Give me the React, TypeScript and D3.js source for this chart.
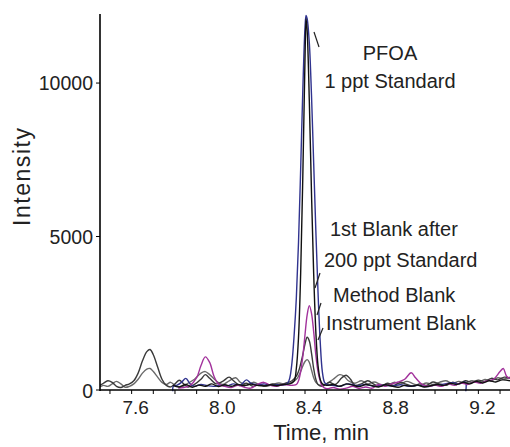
import { useEffect, useRef } from "react"
import * as d3 from "d3"

// time (min) / intensity pairs
const blankAfter200: [number, number][] = [
  [7.79, -40], [7.792, 120], [7.81, 160], [7.83, 250], [7.85, 380], [7.87, 200], [7.89, 120],
  [7.92, 180], [7.95, 140], [7.98, 120], [8.01, 160], [8.04, 130], [8.07, 200], [8.1, 150],
  [8.13, 330], [8.15, 220], [8.18, 170], [8.21, 200], [8.24, 150], [8.27, 170], [8.3, 160],
  [8.32, 220], [8.33, 400], [8.34, 900], [8.35, 1800], [8.36, 3000], [8.37, 4800], [8.38, 7200],
  [8.39, 9800], [8.4, 11800], [8.405, 12200], [8.41, 12100], [8.42, 11300], [8.43, 9600],
  [8.44, 7400], [8.45, 5200], [8.46, 3200], [8.47, 1600], [8.48, 600], [8.49, 250], [8.5, 180],
  [8.53, 150], [8.56, 120], [8.6, 200], [8.64, 140], [8.68, 180], [8.72, 120], [8.76, 160],
  [8.8, 130], [8.84, 170], [8.88, 120], [8.92, 150], [8.96, 110], [9.0, 160], [9.04, 190],
  [9.08, 240], [9.11, 200], [9.14, 260], [9.142, -40],
]

const standard1ppt: [number, number][] = [
  [7.79, 150], [7.82, 100], [7.85, 180], [7.88, 90], [7.91, 160], [7.94, 120], [7.97, 200],
  [8.0, 110], [8.03, 170], [8.06, 120], [8.09, 180], [8.12, 140], [8.15, 190], [8.18, 150],
  [8.21, 130], [8.24, 170], [8.27, 140], [8.3, 180], [8.33, 200], [8.35, 300], [8.36, 700],
  [8.37, 1700], [8.38, 3800], [8.39, 7000], [8.4, 10800], [8.405, 12100], [8.41, 11700],
  [8.42, 9400], [8.43, 6400], [8.44, 3800], [8.45, 1900], [8.46, 800], [8.47, 350], [8.48, 200],
  [8.5, 150], [8.53, 180], [8.56, 120], [8.59, 200], [8.62, 160], [8.65, 110], [8.68, 180],
  [8.71, 140], [8.74, 100], [8.77, 170], [8.8, 130], [8.83, 90], [8.86, 150], [8.89, 120],
  [8.92, 160], [8.95, 100], [8.98, 140], [9.01, 180], [9.04, 150], [9.07, 220], [9.1, 180],
  [9.13, 250], [9.16, 200], [9.19, 280], [9.22, 230], [9.25, 300], [9.28, 260], [9.31, 330],
  [9.346, 300],
]

const methodBlank: [number, number][] = [
  [7.815, 60], [7.84, 80], [7.87, 150], [7.9, 400], [7.92, 800], [7.94, 1080], [7.96, 900],
  [7.98, 450], [8.0, 200], [8.03, 120], [8.06, 80], [8.09, 150], [8.12, 90], [8.15, 60],
  [8.18, 180], [8.21, 250], [8.24, 150], [8.27, 120], [8.3, 180], [8.33, 150], [8.36, 180],
  [8.37, 300], [8.38, 600], [8.39, 1100], [8.4, 1800], [8.41, 2450], [8.42, 2750], [8.43, 2500],
  [8.44, 1900], [8.45, 1150], [8.46, 600], [8.47, 300], [8.48, 120], [8.5, 40], [8.53, 80],
  [8.56, 30], [8.59, 60], [8.62, 120], [8.65, 50], [8.68, 100], [8.71, 60], [8.74, 180],
  [8.77, 120], [8.8, 200], [8.83, 260], [8.86, 350], [8.89, 560], [8.91, 400], [8.94, 180],
  [8.97, 120], [9.0, 160], [9.03, 120], [9.06, 200], [9.09, 150], [9.12, 230], [9.15, 180],
  [9.18, 260], [9.21, 220], [9.24, 300], [9.27, 350], [9.3, 600], [9.315, 700], [9.33, 450],
  [9.346, 380],
]

const instrumentBlank: [number, number][] = [
  [7.454, 150], [7.47, 220], [7.49, 300], [7.51, 250], [7.53, 120], [7.55, 80], [7.57, 150],
  [7.59, 200], [7.61, 300], [7.63, 550], [7.65, 950], [7.67, 1250], [7.685, 1320], [7.7, 1150],
  [7.72, 750], [7.74, 350], [7.76, 150], [7.78, 100], [7.8, 200], [7.82, 320], [7.84, 200],
  [7.86, 100], [7.89, 180], [7.92, 350], [7.94, 500], [7.96, 380], [7.99, 200], [8.02, 280],
  [8.05, 420], [8.07, 300], [8.1, 150], [8.13, 220], [8.16, 120], [8.19, 180], [8.22, 140],
  [8.25, 200], [8.28, 160], [8.31, 220], [8.34, 300], [8.36, 450], [8.37, 600], [8.38, 850],
  [8.39, 1150], [8.4, 1500], [8.41, 1720], [8.42, 1600], [8.43, 1200], [8.44, 700], [8.45, 350],
  [8.46, 180], [8.48, 120], [8.51, 250], [8.54, 180], [8.57, 400], [8.59, 480], [8.61, 350],
  [8.63, 150], [8.66, 200], [8.69, 300], [8.72, 180], [8.75, 120], [8.78, 220], [8.81, 150],
  [8.84, 250], [8.87, 180], [8.9, 120], [8.93, 200], [8.96, 150], [8.99, 260], [9.02, 200],
  [9.05, 150], [9.08, 250], [9.11, 200], [9.14, 300], [9.17, 250], [9.2, 320], [9.23, 280],
  [9.26, 380], [9.29, 330], [9.32, 420], [9.346, 380],
]

const otherBlank: [number, number][] = [
  [7.454, 100], [7.47, 150], [7.49, 120], [7.51, 200], [7.53, 280], [7.55, 200], [7.57, 90],
  [7.59, 120], [7.61, 200], [7.63, 350], [7.65, 550], [7.67, 680], [7.685, 700], [7.7, 600],
  [7.72, 420], [7.74, 250], [7.76, 180], [7.78, 250], [7.8, 150], [7.83, 100], [7.86, 220],
  [7.89, 350], [7.92, 550], [7.94, 600], [7.96, 500], [7.99, 300], [8.02, 180], [8.05, 300],
  [8.08, 400], [8.1, 260], [8.13, 150], [8.16, 250], [8.19, 180], [8.22, 120], [8.25, 180],
  [8.28, 230], [8.31, 180], [8.34, 250], [8.36, 350], [8.37, 450], [8.38, 600], [8.39, 780],
  [8.4, 930], [8.41, 990], [8.42, 900], [8.43, 650], [8.44, 400], [8.45, 250], [8.47, 150],
  [8.5, 200], [8.53, 350], [8.56, 500], [8.58, 450], [8.6, 300], [8.63, 220], [8.66, 300],
  [8.69, 200], [8.72, 260], [8.75, 180], [8.78, 150], [8.81, 250], [8.84, 200], [8.87, 280],
  [8.9, 200], [8.93, 150], [8.96, 230], [8.99, 180], [9.02, 250], [9.05, 300], [9.08, 220],
  [9.11, 280], [9.14, 230], [9.17, 300], [9.2, 260], [9.23, 340], [9.26, 300], [9.29, 400],
  [9.32, 360], [9.346, 420],
]

const yTicks = [0, 5000, 10000]
const xLabelTicks = [7.6, 8.0, 8.4, 8.8, 9.2]

const traces = [
  { data: otherBlank, color: "#6a6a6a" },
  { data: instrumentBlank, color: "#3a3a3a" },
  { data: blankAfter200, color: "#30338f" },
  { data: methodBlank, color: "#a2329c" },
  { data: standard1ppt, color: "#111111" },
]

const notes = [
  { text: "PFOA", x: 390, y: 60, anchor: "middle" },
  { text: "1 ppt Standard", x: 390, y: 88, anchor: "middle" },
  { text: "1st Blank after", x: 330, y: 236, anchor: "start" },
  { text: "200 ppt Standard", x: 324, y: 267, anchor: "start" },
  { text: "Method Blank", x: 333, y: 302, anchor: "start" },
  { text: "Instrument Blank", x: 326, y: 330, anchor: "start" },
]

// leader lines [x1, y1, x2, y2]
const leaders = [
  [314, 32, 319, 47],
  [320, 273, 315, 288],
  [321, 303, 317, 315],
  [323, 328, 318, 340],
]

const W = 510
const H = 447
const left = 100
const top = 14
const bottom = 390

const App = () => {
  const svgRef = useRef<SVGSVGElement>(null)

  useEffect(() => {
    const svg = d3.select(svgRef.current)
    svg.selectAll("*").remove()

    const x = d3.scaleLinear().domain([7.454, 9.346]).range([left, W])
    const y = d3.scaleLinear().domain([0, 12250]).range([bottom, top])
    const font = "'Liberation Sans', Arial, sans-serif"

    svg.append("defs").append("clipPath").attr("id", "plot")
      .append("rect").attr("x", left).attr("y", 0).attr("width", W - left).attr("height", bottom + 4)

    const line = d3.line<[number, number]>()
      .x(d => x(d[0]))
      .y(d => y(d[1]))
      .curve(d3.curveCatmullRom.alpha(0.5))

    const g = svg.append("g").attr("clip-path", "url(#plot)")
    traces.forEach(t => {
      g.append("path")
        .attr("d", line(t.data))
        .attr("fill", "none")
        .attr("stroke", t.color)
        .attr("stroke-width", 1.4)
    })

    // axes
    svg.append("line").attr("x1", left).attr("x2", left).attr("y1", top).attr("y2", bottom + 1)
      .attr("stroke", "#000").attr("stroke-width", 1.6)
    svg.append("line").attr("x1", left).attr("x2", W).attr("y1", bottom).attr("y2", bottom)
      .attr("stroke", "#000").attr("stroke-width", 1.6)

    yTicks.forEach(v => {
      svg.append("line").attr("x1", left - 4).attr("x2", left).attr("y1", y(v)).attr("y2", y(v))
        .attr("stroke", "#000").attr("stroke-width", 1)
      svg.append("text").attr("x", left - 7).attr("y", y(v) + (v === 0 ? 8 : 7))
        .attr("text-anchor", "end").attr("font-family", font).attr("font-size", 19.5)
        .attr("fill", "#222").text(v)
    })

    d3.range(75, 94).map(k => k / 10).forEach(v => {
      svg.append("line").attr("x1", x(v)).attr("x2", x(v)).attr("y1", bottom).attr("y2", bottom + 4)
        .attr("stroke", "#000").attr("stroke-width", 1)
    })
    xLabelTicks.forEach(v => {
      svg.append("text").attr("x", x(v) + 4).attr("y", 414)
        .attr("text-anchor", "middle").attr("font-family", font).attr("font-size", 19)
        .attr("fill", "#222").text(d3.format(".1f")(v))
    })

    svg.append("text").attr("x", 321).attr("y", 440)
      .attr("text-anchor", "middle").attr("font-family", font).attr("font-size", 22)
      .attr("fill", "#222").text("Time, min")

    svg.append("text").attr("transform", "translate(30,177) rotate(-90)")
      .attr("text-anchor", "middle").attr("font-family", font).attr("font-size", 23)
      .attr("textLength", 98).attr("fill", "#222").text("Intensity")

    notes.forEach(n => {
      svg.append("text").attr("x", n.x).attr("y", n.y).attr("text-anchor", n.anchor)
        .attr("font-family", font).attr("font-size", 20).attr("fill", "#222").text(n.text)
    })

    leaders.forEach(l => {
      svg.append("line").attr("x1", l[0]).attr("y1", l[1]).attr("x2", l[2]).attr("y2", l[3])
        .attr("stroke", "#222").attr("stroke-width", 1.2)
    })
  }, [])

  return (
    <svg ref={svgRef} width={W} height={H}
      style={{ position: "absolute", left: 0, top: 0, background: "#fff" }} />
  )
}

export default App
